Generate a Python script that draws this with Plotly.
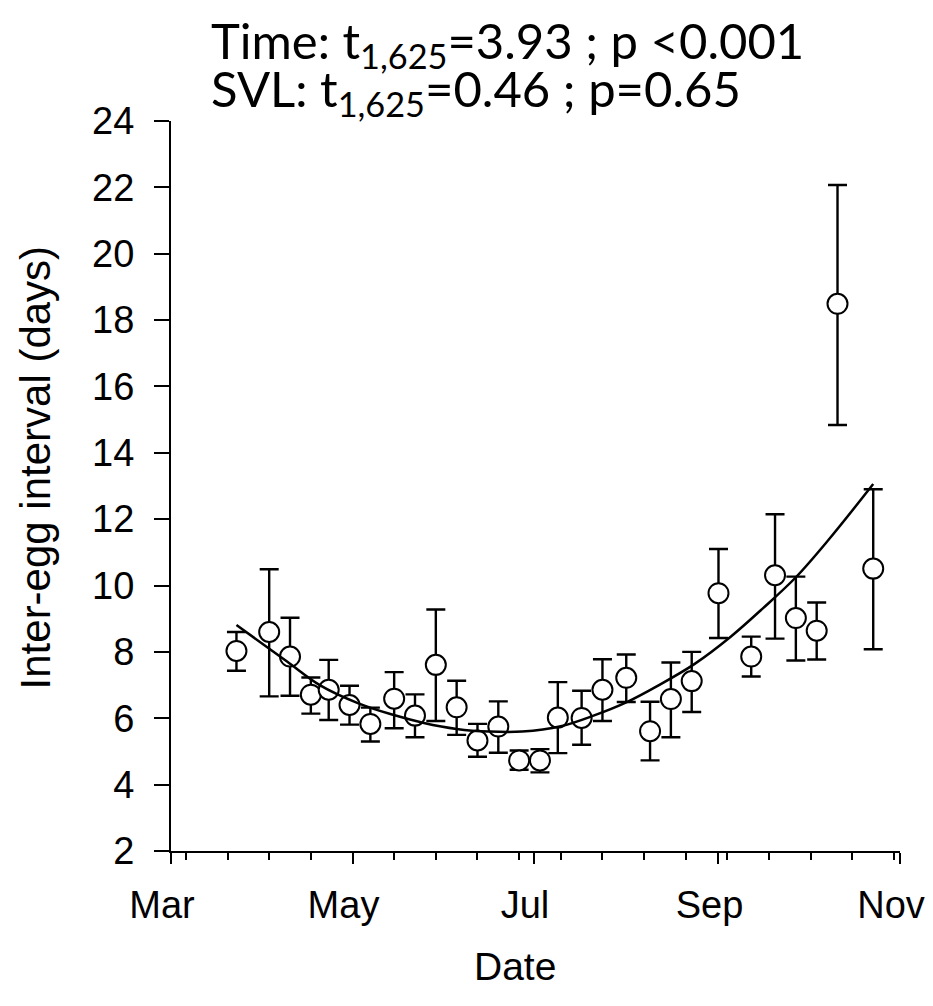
import plotly.graph_objects as go

# Weekly sampling dates and inter-egg interval summaries (days)
dates = ["2013-03-23", "2013-04-03", "2013-04-10", "2013-04-17", "2013-04-23",
         "2013-04-30", "2013-05-07", "2013-05-15", "2013-05-22", "2013-05-29",
         "2013-06-05", "2013-06-12", "2013-06-19", "2013-06-26", "2013-07-03",
         "2013-07-09", "2013-07-17", "2013-07-24", "2013-08-01", "2013-08-09",
         "2013-08-16", "2013-08-23", "2013-09-01", "2013-09-12", "2013-09-20",
         "2013-09-27", "2013-10-04", "2013-10-11", "2013-10-23"]
means = [8.03, 8.60, 7.86, 6.71, 6.86, 6.40, 5.83, 6.59, 6.08, 7.61,
         6.33, 5.33, 5.75, 4.73, 4.73, 6.02, 6.01, 6.86, 7.22, 5.61,
         6.58, 7.12, 9.77, 7.86, 10.31, 9.02, 8.64, 18.49, 10.51]
upper = [8.60, 10.49, 9.03, 7.23, 7.76, 6.98, 6.32, 7.39, 6.72, 9.28,
         7.13, 5.83, 6.51, 5.03, 5.07, 7.09, 6.83, 7.78, 7.92, 6.50,
         7.68, 8.00, 11.10, 8.46, 12.15, 10.27, 9.49, 22.07, 12.90]
lower = [7.43, 6.66, 6.68, 6.14, 5.95, 5.81, 5.30, 5.70, 5.43, 5.92,
         5.50, 4.84, 4.96, 4.45, 4.37, 4.95, 5.20, 5.92, 6.49, 4.73,
         5.43, 6.19, 8.42, 7.26, 8.40, 7.74, 7.77, 14.84, 8.08]

# Fitted seasonal trend
fit_dates = ["2013-03-23", "2013-04-09", "2013-04-20", "2013-05-03", "2013-05-14",
             "2013-05-25", "2013-06-05", "2013-06-16", "2013-06-27", "2013-07-10",
             "2013-07-21", "2013-08-01", "2013-08-12", "2013-08-24", "2013-09-05",
             "2013-09-16", "2013-09-27", "2013-10-08", "2013-10-23"]
fit_values = [8.81, 7.71, 7.00, 6.45, 6.12, 5.86, 5.68, 5.60, 5.60, 5.76,
              6.08, 6.48, 7.00, 7.64, 8.45, 9.32, 10.25, 11.38, 13.06]

month_ticks = ["2013-03-01", "2013-05-01", "2013-07-01", "2013-09-01", "2013-11-01"]
month_labels = ["Mar", "May", "Jul", "Sep", "Nov"]
y_ticks = list(range(2, 25, 2))

err_plus = [u - m for u, m in zip(upper, means)]
err_minus = [m - l for m, l in zip(means, lower)]

AX_FONT = "Liberation Sans, Arial, sans-serif"
TITLE_FONT = "Lato, Calibri, sans-serif"

fig = go.Figure()
fig.add_trace(go.Scatter(
    x=dates, y=means, mode="markers",
    marker=dict(size=20, color="white", line=dict(color="black", width=2)),
    error_y=dict(type="data", symmetric=False, array=err_plus, arrayminus=err_minus,
                 color="black", thickness=2.4, width=9.5),
    showlegend=False,
))
fig.add_trace(go.Scatter(
    x=fit_dates, y=fit_values, mode="lines",
    line=dict(color="black", width=2.5, shape="spline", smoothing=1.0),
    showlegend=False,
))

fig.update_layout(
    width=933, height=1006,
    margin=dict(l=171, r=33, t=121, b=155, autoexpand=False),
    paper_bgcolor="white", plot_bgcolor="white",
    font=dict(family=AX_FONT, color="black"),
)
fig.update_xaxes(
    type="date", range=["2013-03-01", "2013-11-01"],
    tickmode="array", tickvals=month_ticks, ticktext=month_labels,
    ticks="outside", ticklen=11, tickwidth=2, tickcolor="black",
    tickfont=dict(size=38, family=AX_FONT),
    ticklabelstandoff=8, ticklabelshift=-9,
    showline=True, linecolor="black", linewidth=2, mirror=False,
    showgrid=False, zeroline=False,
    minor=dict(ticks="outside", ticklen=7, tickwidth=2, tickcolor="black",
               tick0="2013-03-06", dtick=14 * 86400000, showgrid=False),
)
fig.update_yaxes(
    range=[2, 24], tickmode="array", tickvals=y_ticks,
    ticks="outside", ticklen=15, tickwidth=2, tickcolor="black",
    tickfont=dict(size=38, family=AX_FONT),
    ticklabelstandoff=12,
    showline=True, linecolor="black", linewidth=2, mirror=False,
    showgrid=False, zeroline=False,
)

# Axis titles
fig.add_annotation(text="Date", xref="paper", yref="paper",
                   x=0.472, y=-0.158, xanchor="center", yanchor="middle",
                   showarrow=False, font=dict(size=39, family=AX_FONT))
fig.add_annotation(text="Inter-egg interval (days)", xref="paper", yref="paper",
                   x=-0.186, y=0.526, xanchor="center", yanchor="middle", textangle=-90,
                   showarrow=False, font=dict(size=42, family=AX_FONT))

# Model statistics
fig.add_annotation(text="Time: t<sub>1,625</sub>=3.93 ; p <0.001", xref="paper", yref="paper",
                   x=0.052, y=1.106, xanchor="left", yanchor="middle",
                   showarrow=False, font=dict(size=49, family=TITLE_FONT))
fig.add_annotation(text="SVL: t<sub>1,625</sub>=0.46 ; p=0.65", xref="paper", yref="paper",
                   x=0.052, y=1.041, xanchor="left", yanchor="middle",
                   showarrow=False, font=dict(size=49, family=TITLE_FONT))

fig.write_html("out.html")
